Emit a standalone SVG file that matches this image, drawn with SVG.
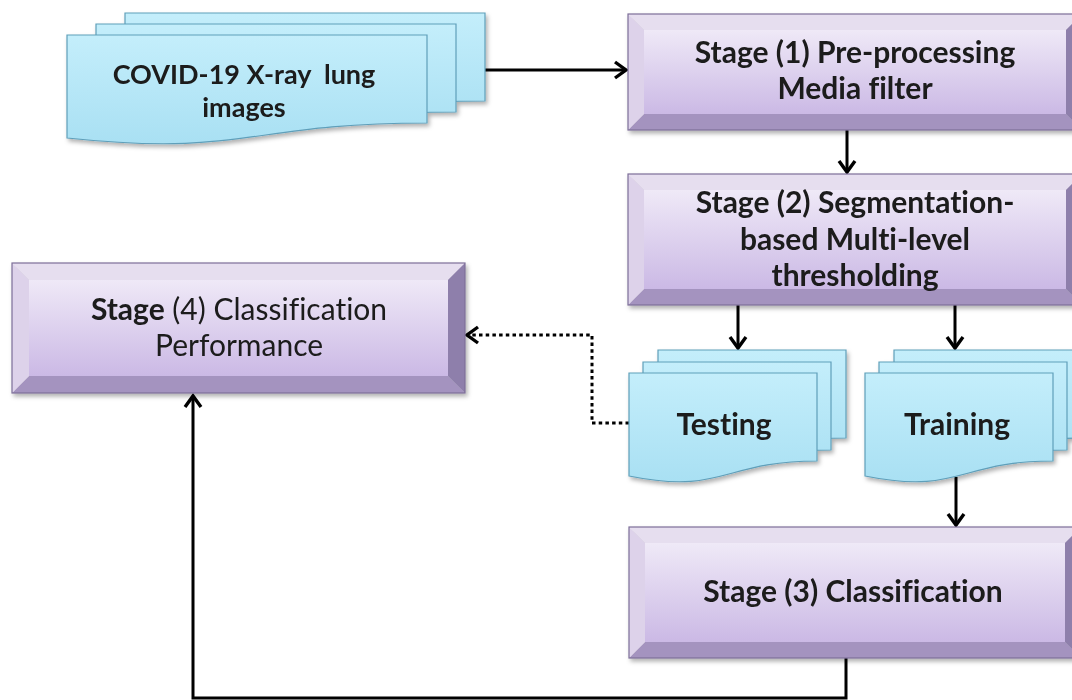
<svg xmlns="http://www.w3.org/2000/svg" width="1072" height="700" viewBox="0 0 1072 700">
<style>
.t{font-family:Lato,"Open Sans","Liberation Sans",sans-serif;font-weight:bold;font-size:30px;fill:#1a1a1a;text-anchor:middle;font-variant-ligatures:none}
.s{font-size:27px}
.r{font-weight:normal}
.bt{fill:#e6deef}
.bl{fill:#ddd2ea}
.bb{fill:#a493bf}
.br{fill:#8e7fab}
.edge{fill:none;stroke:#7d6e98;stroke-width:1.2}
.face{fill:url(#pface)}
.doc{fill:url(#dfill);stroke:#5f9fba;stroke-width:1.2}
.con{fill:none;stroke:#000;stroke-width:3}
.dot{stroke-dasharray:3.5 3.2}
</style>
<defs>
<linearGradient id="pface" x1="0" y1="0" x2="0" y2="1">
<stop offset="0" stop-color="#efe9f7"/>
<stop offset="1" stop-color="#cbb9e5"/>
</linearGradient>
<linearGradient id="dfill" x1="0" y1="0" x2="0" y2="1">
<stop offset="0" stop-color="#c4eefb"/>
<stop offset="1" stop-color="#a9e0f3"/>
</linearGradient>
<filter id="sh" x="-5%" y="-5%" width="112%" height="120%">
<feDropShadow dx="2" dy="3" stdDeviation="2" flood-color="#000" flood-opacity="0.3"/>
</filter>
<marker id="ah" markerUnits="userSpaceOnUse" markerWidth="26" markerHeight="26" viewBox="-15 -13 19 26" refX="0" refY="0" orient="auto">
<path d="M-11,-8 L0,0 L-11,8" fill="none" stroke="#000" stroke-width="3.4"/>
</marker>
</defs>
<rect width="1072" height="700" fill="#fff"/>

<g id="connectors">
<path class="con" d="M485,70 H626" marker-end="url(#ah)"/>
<path class="con" d="M847,130 V172" marker-end="url(#ah)"/>
<path class="con" d="M738,305 V348" marker-end="url(#ah)"/>
<path class="con" d="M955,305 V348" marker-end="url(#ah)"/>
<path class="con" d="M956,477 V525" marker-end="url(#ah)"/>
<path class="con" d="M846,658 V698 H193 V396" marker-end="url(#ah)"/>
<path class="con dot" d="M629,423 H592 V335 H467" marker-end="url(#ah)"/>
</g>

<g id="covid-images" filter="url(#sh)">
<path class="doc" d="M125,13 H485 V101 C305,101 305,135 125,116 Z"/>
<path class="doc" d="M96,24 H456 V112 C276,112 276,146 96,127 Z"/>
<path class="doc" d="M67,35 H427 V123 C247,123 247,157 67,138 Z"/>
<text class="t s" x="244" y="84">COVID-19 X-ray&#160; lung</text>
<text class="t s" x="244" y="117">images</text>
</g>

<g id="stage1" filter="url(#sh)">
<rect class="face" x="644" y="30" width="422" height="84"/>
<path class="bt" d="M628,14 L1082,14 L1066,30 L644,30 Z"/>
<path class="bb" d="M628,130 L1082,130 L1066,114 L644,114 Z"/>
<path class="bl" d="M628,14 L644,30 L644,114 L628,130 Z"/>
<path class="br" d="M1082,14 L1066,30 L1066,114 L1082,130 Z"/>
<rect class="edge" x="628" y="14" width="454" height="116"/>
<text class="t" x="855" y="63">Stage (1) Pre-processing</text>
<text class="t" x="855" y="99">Media filter</text>
</g>

<g id="stage2" filter="url(#sh)">
<rect class="face" x="644" y="190" width="422" height="99"/>
<path class="bt" d="M628,174 L1082,174 L1066,190 L644,190 Z"/>
<path class="bb" d="M628,305 L1082,305 L1066,289 L644,289 Z"/>
<path class="bl" d="M628,174 L644,190 L644,289 L628,305 Z"/>
<path class="br" d="M1082,174 L1066,190 L1066,289 L1082,305 Z"/>
<rect class="edge" x="628" y="174" width="454" height="131"/>
<text class="t" x="855" y="213">Stage (2) Segmentation-</text>
<text class="t" x="855" y="250">based Multi-level</text>
<text class="t" x="855" y="286">thresholding</text>
</g>

<g id="stage4" filter="url(#sh)">
<rect class="face" x="29" y="280" width="419" height="96"/>
<path class="bt" d="M12,263 L465,263 L448,280 L29,280 Z"/>
<path class="bb" d="M12,393 L465,393 L448,376 L29,376 Z"/>
<path class="bl" d="M12,263 L29,280 L29,376 L12,393 Z"/>
<path class="br" d="M465,263 L448,280 L448,376 L465,393 Z"/>
<rect class="edge" x="12" y="263" width="453" height="130"/>
<text class="t" x="239" y="320">Stage<tspan class="r"> (4) Classification</tspan></text>
<text class="t r" x="239" y="356">Performance</text>
</g>

<g id="testing" filter="url(#sh)">
<path class="doc" d="M658,350 H846 V438 C752,438 752,472 658,453 Z"/>
<path class="doc" d="M643,362 H831 V450 C737,450 737,484 643,465 Z"/>
<path class="doc" d="M629,373 H817 V461 C723,461 723,495 629,476 Z"/>
<text class="t" x="724" y="435">Testing</text>
</g>

<g id="training" filter="url(#sh)">
<path class="doc" d="M894,350 H1082 V438 C988,438 988,472 894,453 Z"/>
<path class="doc" d="M879,362 H1067 V450 C973,450 973,484 879,465 Z"/>
<path class="doc" d="M865,373 H1053 V461 C959,461 959,495 865,476 Z"/>
<text class="t" x="957" y="435">Training</text>
</g>

<g id="stage3" filter="url(#sh)">
<rect class="face" x="645" y="543" width="420" height="99"/>
<path class="bt" d="M629,527 L1081,527 L1065,543 L645,543 Z"/>
<path class="bb" d="M629,658 L1081,658 L1065,642 L645,642 Z"/>
<path class="bl" d="M629,527 L645,543 L645,642 L629,658 Z"/>
<path class="br" d="M1081,527 L1065,543 L1065,642 L1081,658 Z"/>
<rect class="edge" x="629" y="527" width="452" height="131"/>
<text class="t" x="853" y="602">Stage (3) Classification</text>
</g>
</svg>
